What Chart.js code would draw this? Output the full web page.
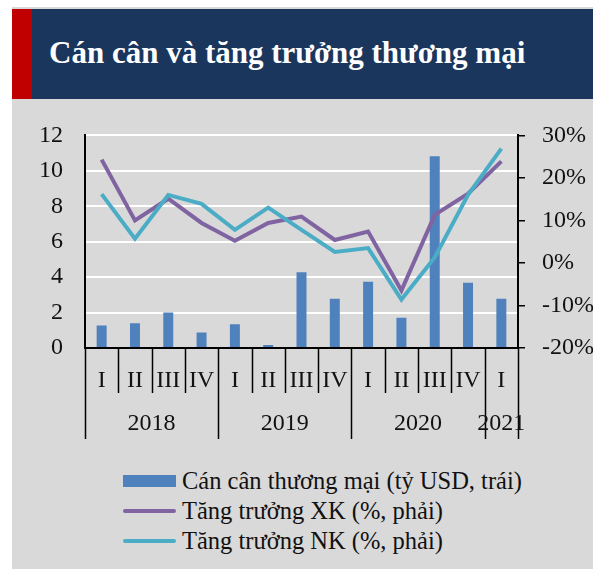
<!DOCTYPE html>
<html>
<head>
<meta charset="utf-8">
<script src="https://cdn.jsdelivr.net/npm/chart.js@4"></script>
<style>
  body { margin: 0; background: #fff; width: 593px; height: 570px; overflow: hidden; font-family: "Liberation Serif", serif; }
  #panel { position: absolute; left: 12px; top: 7px; width: 581px; height: 562px; background: #d9d9d9; }
  #header { position: absolute; left: 12px; top: 9px; width: 581px; height: 90px; background: #1a365d; }
  #redbar { position: absolute; left: 0; top: 0; width: 20px; height: 90px; background: #c00000; }
  #title { position: absolute; left: 37px; top: 0; height: 90px; line-height: 88px; color: #fff; font-weight: bold; font-size: 31px; white-space: nowrap; }
  #chart { position: absolute; left: 12px; top: 99px; }
  #legend { position: absolute; left: 123px; top: 466px; }
  .item { height: 30px; display: flex; align-items: center; font-size: 24.5px; color: #111; white-space: nowrap; }
  .swatch { width: 53px; margin-right: 6px; }
</style>
</head>
<body>
<div id="panel"></div>
<div id="header"><div id="redbar"></div><div id="title">Cán cân và tăng trưởng thương mại</div></div>
<canvas id="chart" width="581" height="361"></canvas>
<div id="legend"></div>
<script>
// quarters and year groups on the x axis
const quarters = ['I', 'II', 'III', 'IV', 'I', 'II', 'III', 'IV', 'I', 'II', 'III', 'IV', 'I'];
const years = ['2018', '2019', '2020', '2021'];
const yearSpans = [4, 4, 4, 1];

// trade balance, bn USD (left)
const balance = [1.27, 1.4, 2.0, 0.87, 1.34, 0.17, 4.27, 2.78, 3.74, 1.71, 10.83, 3.68, 2.78];
// export growth, % (right)
const exportGrowth = [24.3, 10.0, 15.1, 9.4, 5.2, 9.4, 10.9, 5.4, 7.4, -6.5, 11.3, 16.3, 23.9];
// import growth, % (right)
const importGrowth = [16.2, 5.7, 16.0, 13.9, 7.8, 13.0, 7.8, 2.6, 3.5, -8.6, 1.3, 16.0, 26.9];

const FONT = { family: 'Liberation Serif', size: 24 };

// two level category axis: quarters, then years
const groupAxis = {
    id: 'groupAxis',
    afterDraw(chart) {
        const ctx = chart.ctx;
        const x = chart.scales.x;
        const bottom = chart.chartArea.bottom;
        const w = (x.right - x.left) / quarters.length;
        const yearEdges = [0];
        yearSpans.forEach(s => yearEdges.push(yearEdges[yearEdges.length - 1] + s));

        ctx.save();
        ctx.strokeStyle = '#000';
        ctx.lineWidth = 1.5;
        for (let i = 0; i <= quarters.length; i++) {
            const px = Math.round(x.left + i * w) + 0.5;
            const long = yearEdges.includes(i);
            ctx.beginPath();
            ctx.moveTo(px, bottom);
            ctx.lineTo(px, bottom + (long ? 91 : 45));
            ctx.stroke();
        }
        ctx.fillStyle = '#111';
        ctx.font = FONT.size + 'px ' + FONT.family;
        ctx.textAlign = 'center';
        ctx.textBaseline = 'middle';
        quarters.forEach((q, i) => ctx.fillText(q, x.getPixelForValue(i), bottom + 33));
        years.forEach((yr, j) => {
            const a = x.left + yearEdges[j] * w;
            const b = x.left + yearEdges[j + 1] * w;
            ctx.fillText(yr, (a + b) / 2, bottom + 76);
        });
        ctx.restore();
    }
};

const chart = new Chart(document.getElementById('chart').getContext('2d'), {
    type: 'bar',
    data: {
        labels: quarters,
        datasets: [
            {
                type: 'line',
                label: 'Tăng trưởng NK (%, phải)',
                data: importGrowth,
                yAxisID: 'y1',
                borderColor: '#4bacc6',
                backgroundColor: '#4bacc6',
                borderWidth: 4,
                pointRadius: 0,
                tension: 0,
                order: 1
            },
            {
                type: 'line',
                label: 'Tăng trưởng XK (%, phải)',
                data: exportGrowth,
                yAxisID: 'y1',
                borderColor: '#8064a2',
                backgroundColor: '#8064a2',
                borderWidth: 4,
                pointRadius: 0,
                tension: 0,
                order: 2
            },
            {
                label: 'Cán cân thương mại (tỷ USD, trái)',
                data: balance,
                yAxisID: 'y',
                backgroundColor: '#4f81bd',
                categoryPercentage: 1,
                barPercentage: 0.3,
                order: 3
            }
        ]
    },
    options: {
        responsive: false,
        animation: false,
        devicePixelRatio: 1,
        layout: { padding: { top: 31, left: 0, right: 0, bottom: 0 } },
        plugins: { legend: { display: false }, tooltip: { enabled: false } },
        scales: {
            x: {
                offset: true,
                grid: { display: false },
                border: { display: true, color: '#000', width: 2 },
                ticks: { display: false },
                afterFit: s => { s.height = 112; }
            },
            y: {
                position: 'left',
                min: 0,
                max: 12,
                ticks: { stepSize: 2, color: '#111', font: FONT, padding: 22 },
                grid: {
                    color: c => c.tick.value === 0 ? 'rgba(0,0,0,0)' : '#ffffff',
                    lineWidth: 2,
                    drawTicks: false
                },
                border: { display: true, color: '#000', width: 2 },
                afterFit: s => { s.width = 73; }
            },
            y1: {
                position: 'right',
                min: -20,
                max: 30,
                ticks: { stepSize: 10, color: '#111', font: FONT, padding: 17, callback: v => v + '%' },
                grid: { drawOnChartArea: false, color: '#000', lineWidth: 1.5, tickLength: 7 },
                border: { display: true, color: '#000', width: 2 },
                afterFit: s => { s.width = 75; }
            }
        }
    },
    plugins: [groupAxis]
});

// legend in the source order: bar, export, import
const legend = document.getElementById('legend');
[2, 1, 0].forEach(i => {
    const ds = chart.data.datasets[i];
    const row = document.createElement('div');
    row.className = 'item';
    const sw = document.createElement('div');
    sw.className = 'swatch';
    sw.style.height = ds.type === 'line' ? '4px' : '12px';
    sw.style.background = ds.type === 'line' ? ds.borderColor : ds.backgroundColor;
    sw.style.borderRadius = ds.type === 'line' ? '2px' : '0';
    row.appendChild(sw);
    row.appendChild(document.createTextNode(ds.label));
    legend.appendChild(row);
});
</script>
</body>
</html>
